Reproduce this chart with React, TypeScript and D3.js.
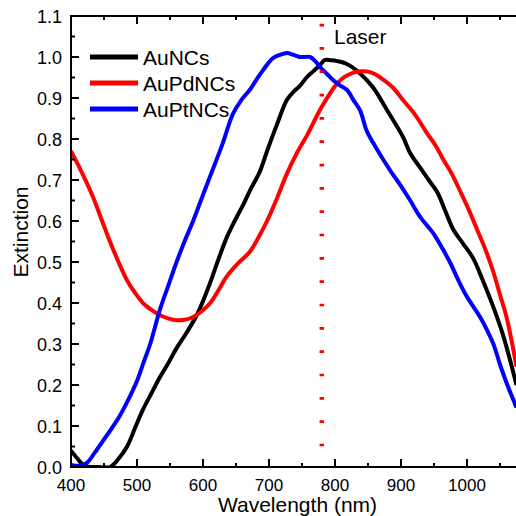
import React from "react";
import * as d3 from "d3";

const auW = [400, 410, 420, 440, 459, 472, 485, 497, 509, 522, 535, 548, 560, 576, 592, 611, 623, 636, 648, 661, 673, 686, 698, 712, 727, 737, 747, 757, 767, 777, 785, 794, 803, 818, 838, 858, 879, 903, 914, 929, 942, 955, 967, 979, 994, 1009, 1024, 1040, 1055, 1075];
const auV = [0.04, 0.02, 0.003, 0.0, 0.0, 0.02, 0.05, 0.095, 0.14, 0.18, 0.22, 0.255, 0.29, 0.33, 0.375, 0.45, 0.505, 0.56, 0.6, 0.64, 0.68, 0.72, 0.775, 0.835, 0.895, 0.915, 0.93, 0.95, 0.965, 0.98, 0.993, 0.992, 0.99, 0.983, 0.96, 0.925, 0.87, 0.805, 0.765, 0.73, 0.7, 0.67, 0.625, 0.58, 0.545, 0.51, 0.455, 0.39, 0.32, 0.2];

const pdW = [400, 416, 433, 446, 459, 472, 485, 497, 509, 522, 535, 548, 560, 572, 585, 598, 611, 623, 636, 652, 671, 684, 697, 712, 727, 742, 758, 777, 790, 803, 815, 828, 838, 848, 861, 873, 888, 903, 921, 939, 952, 964, 977, 989, 1002, 1015, 1028, 1040, 1050, 1060, 1075];
const pdV = [0.77, 0.72, 0.66, 0.605, 0.55, 0.5, 0.455, 0.425, 0.4, 0.383, 0.37, 0.362, 0.358, 0.359, 0.366, 0.38, 0.4, 0.43, 0.465, 0.495, 0.525, 0.56, 0.6, 0.655, 0.715, 0.765, 0.81, 0.87, 0.905, 0.935, 0.952, 0.962, 0.965, 0.965, 0.958, 0.945, 0.925, 0.895, 0.86, 0.815, 0.785, 0.75, 0.715, 0.675, 0.63, 0.58, 0.53, 0.475, 0.42, 0.365, 0.245];

const ptW = [400, 412, 424, 436, 449, 462, 474, 487, 500, 510, 520, 535, 548, 560, 572, 585, 598, 611, 630, 645, 658, 671, 681, 691, 699, 706, 716, 727, 737, 747, 762, 770, 777, 787, 797, 808, 818, 828, 838, 848, 858, 873, 885, 898, 914, 929, 949, 962, 974, 987, 1000, 1020, 1030, 1040, 1050, 1060, 1075];
const ptV = [0.005, 0.003, 0.01, 0.035, 0.065, 0.095, 0.125, 0.165, 0.21, 0.255, 0.3, 0.385, 0.445, 0.5, 0.55, 0.6, 0.655, 0.71, 0.79, 0.86, 0.895, 0.92, 0.945, 0.968, 0.985, 0.997, 1.005, 1.01, 1.005, 1.0, 1.0, 0.99, 0.976, 0.96, 0.944, 0.93, 0.92, 0.895, 0.87, 0.82, 0.79, 0.75, 0.72, 0.69, 0.65, 0.61, 0.57, 0.535, 0.5, 0.455, 0.415, 0.365, 0.335, 0.3, 0.25, 0.205, 0.145];

const seriesNames = ["AuNCs", "AuPdNCs", "AuPtNCs"];
const seriesColors = ["#000000", "#ff0000", "#0000ff"];
const xTicks = [400, 500, 600, 700, 800, 900, 1000];
const yTicks = [0, 0.1, 0.2, 0.3, 0.4, 0.5, 0.6, 0.7, 0.8, 0.9, 1.0, 1.1];
const laserWavelength = 780;

export default function App() {
  const left = 71, top = 16, bottom = 467, right = 516.5;
  const x = d3.scaleLinear().domain([400, 1075]).range([left, right]);
  const y = d3.scaleLinear().domain([0, 1.1]).range([bottom, top]);
  const line = d3
    .line<[number, number]>()
    .x((d) => x(d[0]))
    .y((d) => y(d[1]))
    .curve(d3.curveCatmullRom.alpha(0.5));
  const series = [
    auW.map((w, i) => [w, auV[i]] as [number, number]),
    pdW.map((w, i) => [w, pdV[i]] as [number, number]),
    ptW.map((w, i) => [w, ptV[i]] as [number, number]),
  ];
  const xMinor = d3.range(450, 1075, 100);
  const yMinor = d3.range(0.05, 1.1, 0.1);
  const font = "Arial, 'Liberation Sans', sans-serif";
  return (
    <svg
      width={516}
      height={516}
      style={{ position: "absolute", left: 0, top: 0, background: "#fff" }}
      fontFamily={font}
    >
      <defs>
        <clipPath id="plotclip">
          <rect x={left} y={top} width={right - left} height={bottom - top} />
        </clipPath>
      </defs>
      <rect x={0} y={0} width={516} height={516} fill="#fff" />
      <g clipPath="url(#plotclip)">
        {series.map((s, i) => (
          <path
            key={i}
            d={line(s) || ""}
            fill="none"
            stroke={seriesColors[i]}
            strokeWidth={4}
            strokeLinejoin="round"
          />
        ))}
      </g>
      <line
        x1={x(laserWavelength)}
        x2={x(laserWavelength)}
        y1={23.7}
        y2={bottom}
        stroke="#ff0000"
        strokeWidth={4.5}
        strokeDasharray="2.7,20.63"
      />
      <text x={334} y={44} fontSize={21}>Laser</text>
      {/* axes */}
      <line x1={left} x2={left} y1={top} y2={bottom + 1} stroke="#000" strokeWidth={2} />
      <line x1={left - 1} x2={516} y1={bottom} y2={bottom} stroke="#000" strokeWidth={2} />
      <line x1={left - 1} x2={516} y1={top} y2={top} stroke="#000" strokeWidth={2} />
      {xTicks.map((t) => (
        <g key={"xt" + t}>
          <line x1={x(t)} x2={x(t)} y1={bottom} y2={bottom - 8} stroke="#000" strokeWidth={2} />
          <line x1={x(t)} x2={x(t)} y1={top} y2={top + 8} stroke="#000" strokeWidth={2} />
          <text x={x(t)} y={491} fontSize={17} textAnchor="middle">{t}</text>
        </g>
      ))}
      {xMinor.map((t) => (
        <g key={"xm" + t}>
          <line x1={x(t)} x2={x(t)} y1={bottom} y2={bottom - 4} stroke="#000" strokeWidth={2} />
          <line x1={x(t)} x2={x(t)} y1={top} y2={top + 4} stroke="#000" strokeWidth={2} />
        </g>
      ))}
      {yTicks.map((t) => (
        <g key={"yt" + t}>
          <line x1={left} x2={left + 8} y1={y(t)} y2={y(t)} stroke="#000" strokeWidth={2} />
          <text x={62} y={y(t) + 6.5} fontSize={18} textAnchor="end">{t.toFixed(1)}</text>
        </g>
      ))}
      {yMinor.map((t) => (
        <line key={"ym" + t} x1={left} x2={left + 4} y1={y(t)} y2={y(t)} stroke="#000" strokeWidth={2} />
      ))}
      <text x={297.5} y={512} fontSize={21} textAnchor="middle">Wavelength (nm)</text>
      <text transform="translate(28,232) rotate(-90)" fontSize={21} textAnchor="middle">Extinction</text>
      {/* legend */}
      {seriesNames.map((n, i) => (
        <g key={n}>
          <line x1={90} x2={138} y1={57 + i * 26} y2={57 + i * 26} stroke={seriesColors[i]} strokeWidth={5} />
          <text x={143} y={65 + i * 26} fontSize={21}>{n}</text>
        </g>
      ))}
    </svg>
  );
}
